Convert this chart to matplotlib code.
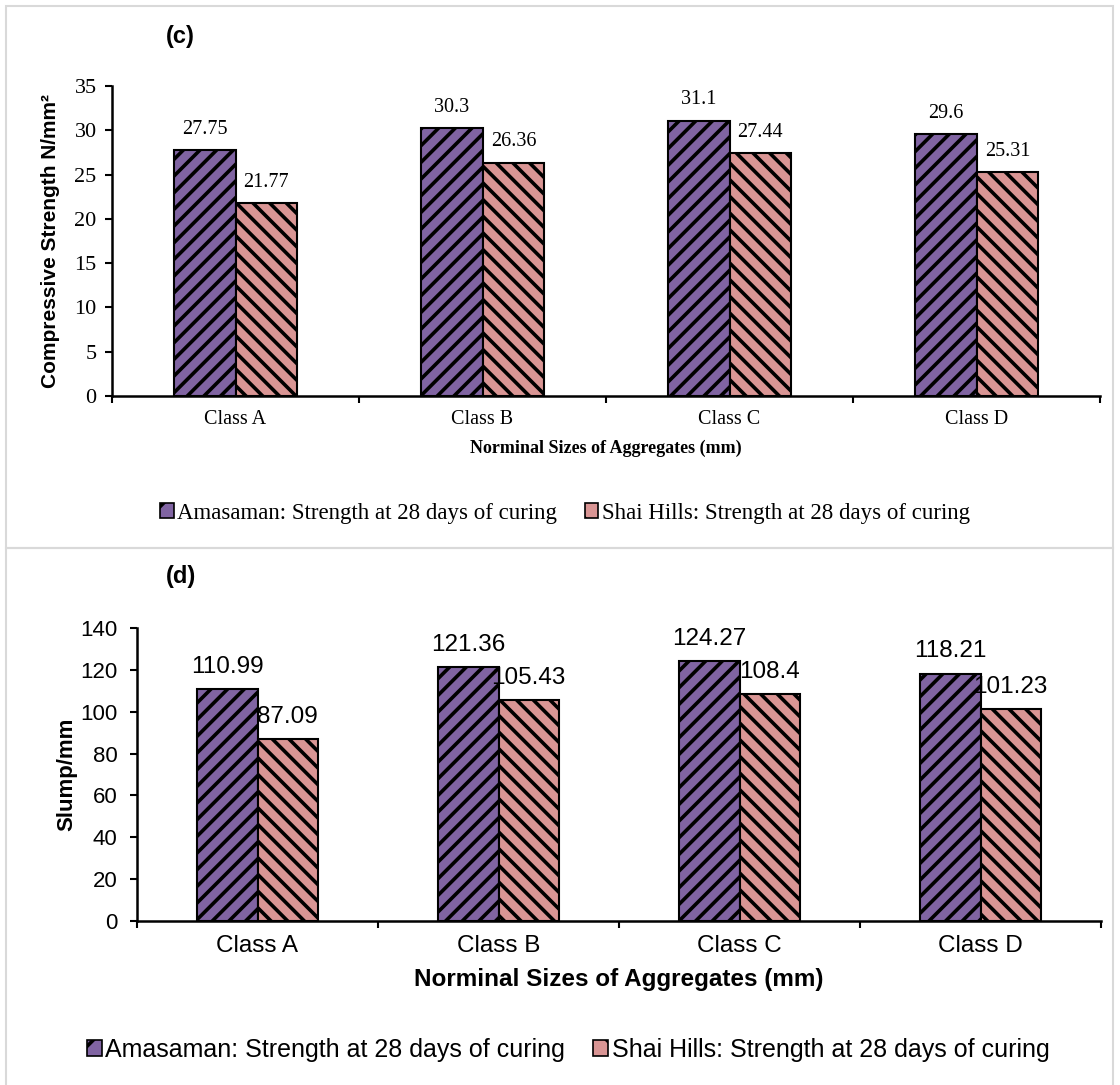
import matplotlib
matplotlib.use("Agg")
import matplotlib.pyplot as plt
import numpy as np
from matplotlib.patches import Patch, Rectangle

# data
classes = ["Class A", "Class B", "Class C", "Class D"]
strength_amasaman = [27.75, 30.3, 31.1, 29.6]
strength_shai = [21.77, 26.36, 27.44, 25.31]
slump_amasaman = [110.99, 121.36, 124.27, 118.21]
slump_shai = [87.09, 105.43, 108.4, 101.23]
series_names = ["Amasaman: Strength at 28 days of curing",
                "Shai Hills: Strength at 28 days of curing"]

purple = "#8064A2"
pink = "#D99594"
serif = "Liberation Serif"
sans = "Liberation Sans"

plt.rcParams["hatch.linewidth"] = 2.6

W, H = 1120, 1085
fig = plt.figure(figsize=(W / 100, H / 100), dpi=100)


def fx(px):
    return px / W


def fy(py):
    return 1 - py / H


# panel frames
fig.add_artist(Rectangle((fx(6), fy(548)), fx(1107), 542 / H, transform=fig.transFigure,
                         fill=False, edgecolor="#d9d9d9", linewidth=1.5))
fig.add_artist(Rectangle((fx(6), fy(1090)), fx(1107), 542 / H, transform=fig.transFigure,
                         fill=False, edgecolor="#d9d9d9", linewidth=1.5))


def draw_panel(ax, a, b, ymax, ystep, font, xtick_fs, ytick_fs, val_fs, lab_fs, ylabel, ylab_fs, ypad):
    x = np.arange(len(classes))
    w = 0.25
    ax.bar(x - w / 2, a, w, color=purple, edgecolor="black", linewidth=1.5, hatch="//")
    ax.bar(x + w / 2, b, w, color=pink, edgecolor="black", linewidth=1.5, hatch="\\\\")
    for xi, v in zip(x, a):
        ax.annotate(f"{v:g}", (xi - w / 2, v), xytext=(0, 8), textcoords="offset points",
                    ha="center", va="bottom", fontsize=val_fs, family=font)
    for xi, v in zip(x, b):
        ax.annotate(f"{v:g}", (xi + w / 2, v), xytext=(0, 8), textcoords="offset points",
                    ha="center", va="bottom", fontsize=val_fs, family=font)
    ax.set_xlim(-0.5, len(classes) - 0.5)
    ax.set_ylim(0, ymax)
    ax.set_yticks(np.arange(0, ymax + 1, ystep))
    ax.set_xticks(x)
    ax.set_xticklabels(classes, family=font, fontsize=xtick_fs)
    ax.set_xticks(np.arange(-0.5, len(classes)), minor=True)
    ax.tick_params(axis="x", which="major", length=0, pad=10)
    ax.tick_params(axis="x", which="minor", length=5, width=1.5, direction="out")
    ax.tick_params(axis="y", length=5, width=1.5, direction="out", labelsize=ytick_fs, pad=ypad)
    for lbl in ax.get_yticklabels():
        lbl.set_family(font)
    for s in ["top", "right"]:
        ax.spines[s].set_visible(False)
    for s in ["left", "bottom"]:
        ax.spines[s].set_linewidth(1.8)
    ax.set_xlabel("Norminal Sizes of Aggregates (mm)", family=font, fontsize=lab_fs,
                  fontweight="bold", labelpad=8)
    ax.set_ylabel(ylabel, family=sans, fontsize=ylab_fs, fontweight="bold")


# panel (c)
ax1 = fig.add_axes([fx(112), fy(396), fx(988), 310 / H])
draw_panel(ax1, strength_amasaman, strength_shai, 35, 5, serif, 14.5, 16, 14.5, 13,
           "Compressive Strength N/mm²", 15, 6)
ax1.yaxis.set_label_coords(-0.053, 0.5)
fig.text(fx(166), fy(37), "(c)", family=sans, fontsize=17, fontweight="bold", va="center")

# panel (d)
ax2 = fig.add_axes([fx(137), fy(921), fx(964), 293 / H])
draw_panel(ax2, slump_amasaman, slump_shai, 140, 20, sans, 17.5, 16, 17.5, 17.5,
           "Slump/mm", 16, 9)
ax2.yaxis.set_label_coords(-0.062, 0.5)
fig.text(fx(166), fy(576), "(d)", family=sans, fontsize=17, fontweight="bold", va="center")

handles = [Patch(facecolor=purple, edgecolor="black", hatch="/", linewidth=1.2),
           Patch(facecolor=pink, edgecolor="black", hatch="\\", linewidth=1.2)]
fig.legend(handles, series_names, loc="center", bbox_to_anchor=(fx(565), fy(513)), ncol=2,
           frameon=False, prop={"family": serif, "size": 16.5}, handlelength=0.6,
           handleheight=0.6, handletextpad=0.15, columnspacing=1.2)
fig.legend(handles, series_names, loc="center", bbox_to_anchor=(fx(568), fy(1050)), ncol=2,
           frameon=False, prop={"family": sans, "size": 18}, handlelength=0.6,
           handleheight=0.6, handletextpad=0.15, columnspacing=1.1)

fig.savefig("out.png", dpi=100)
